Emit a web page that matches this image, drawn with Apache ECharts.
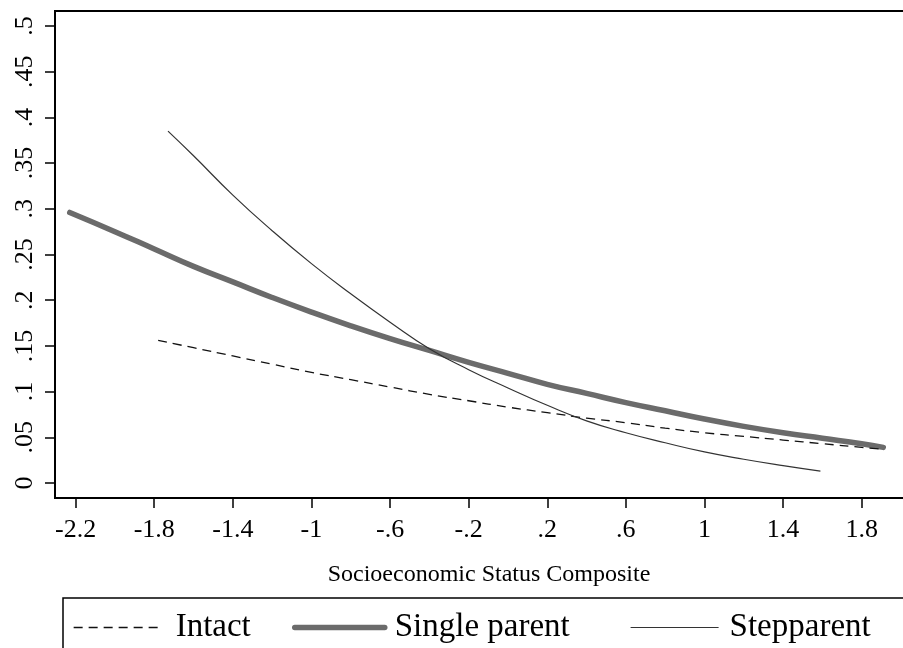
<!DOCTYPE html>
<html>
<head>
<meta charset="utf-8">
<script src="https://cdn.jsdelivr.net/npm/echarts@6/dist/echarts.min.js"></script>
<style>html,body{margin:0;padding:0;background:#fff}#c{width:903px;height:648px}</style>
</head>
<body>
<div id="c"></div>
<script>
// ---- data ----
const xTicks = [-2.2, -1.8, -1.4, -1, -0.6, -0.2, 0.2, 0.6, 1, 1.4, 1.8];
const yTicks = [0, 0.05, 0.1, 0.15, 0.2, 0.25, 0.3, 0.35, 0.4, 0.45, 0.5];

const intactX = [-1.78, -1.6, -1.4, -1.2, -1.0, -0.8, -0.6, -0.4, -0.2, 0, 0.2, 0.4, 0.6, 0.8, 1.0, 1.2, 1.4, 1.6, 1.8, 1.9];
const intactY = [0.156, 0.148, 0.139, 0.130, 0.121, 0.113, 0.105, 0.097, 0.090, 0.083, 0.077, 0.071, 0.066, 0.060, 0.055, 0.051, 0.047, 0.043, 0.039, 0.037];

const singleX = [-2.23, -2.0, -1.8, -1.6, -1.4, -1.2, -1.0, -0.8, -0.6, -0.4, -0.2, 0, 0.2, 0.4, 0.6, 0.8, 1.0, 1.2, 1.4, 1.6, 1.8, 1.91];
const singleY = [0.296, 0.275, 0.256, 0.237, 0.220, 0.203, 0.187, 0.172, 0.158, 0.145, 0.132, 0.120, 0.108, 0.098, 0.088, 0.079, 0.070, 0.062, 0.055, 0.049, 0.043, 0.039];

const stepX = [-1.73, -1.6, -1.4, -1.2, -1.0, -0.8, -0.6, -0.4, -0.2, 0, 0.2, 0.4, 0.6, 0.8, 1.0, 1.2, 1.4, 1.59];
const stepY = [0.385, 0.358, 0.315, 0.276, 0.240, 0.207, 0.176, 0.147, 0.124, 0.104, 0.085, 0.068, 0.055, 0.044, 0.034, 0.026, 0.019, 0.013];

const seriesNames = ['Intact', 'Single parent', 'Stepparent'];
const xTitle = 'Socioeconomic Status Composite';

const zip = (xs, ys) => xs.map((x, i) => [x, ys[i]]);
const fmt = v => String(+v.toFixed(3)).replace(/^(-?)0\./, '$1.');

const FONT = '"Liberation Serif", "Times New Roman", serif';
const styles = [
  {color: '#111', width: 1.3, type: [9, 6]},
  {color: '#6b6b6b', width: 5.5, type: 'solid', cap: 'round'},
  {color: '#333', width: 1.2, type: 'solid'}
];

const chart = echarts.init(document.getElementById('c'), null, {renderer: 'canvas'});

function mkLegend(i, left, width, pad) {
  return {
    orient: 'horizontal', top: 606, left: left, itemWidth: width, itemHeight: 14,
    selectedMode: false,
    itemStyle: {opacity: 0},
    data: [{name: seriesNames[i], lineStyle: Object.assign({}, styles[i]), itemStyle: {opacity: 0}}],
    textStyle: {fontFamily: FONT, fontSize: 33, color: '#000', padding: [0, 0, 0, pad]}
  };
}

chart.setOption({
  backgroundColor: '#fff',
  animation: false,
  grid: {left: 55, top: 11, right: -20, height: 487, show: true, borderColor: '#000', borderWidth: 2, outerBoundsMode: 'none', containLabel: false},
  xAxis: {
    type: 'value', min: -2.305, max: 2.112,
    name: xTitle, nameLocation: 'middle', nameGap: 65,
    nameTextStyle: {fontFamily: FONT, fontSize: 24, color: '#000'},
    axisLine: {show: true, onZero: false, lineStyle: {color: '#000', width: 2}},
    axisTick: {show: true, length: 10, lineStyle: {color: '#000', width: 1.5}, customValues: xTicks},
    axisLabel: {fontFamily: FONT, fontSize: 26, color: '#000', margin: 19, customValues: xTicks, formatter: fmt},
    splitLine: {show: false}
  },
  yAxis: {
    type: 'value', min: -0.0164, max: 0.5164,
    axisLine: {show: true, onZero: false, lineStyle: {color: '#000', width: 2}},
    axisTick: {show: true, length: 10, lineStyle: {color: '#000', width: 1.5}, customValues: yTicks},
    axisLabel: {fontFamily: FONT, fontSize: 26, color: '#000', margin: 17, rotate: 90, customValues: yTicks, formatter: fmt},
    splitLine: {show: false}
  },
  legend: [
    mkLegend(0, 68, 87, 10),
    mkLegend(1, 287, 90, 5),
    mkLegend(2, 625, 88, 6)
  ],
  graphic: [{
    type: 'rect', shape: {x: 63, y: 598, width: 860, height: 80},
    style: {fill: 'none', stroke: '#000', lineWidth: 1.5}, silent: true
  }],
  series: seriesNames.map((n, i) => ({
    name: n, type: 'line', smooth: true, symbol: 'none',
    data: [zip(intactX, intactY), zip(singleX, singleY), zip(stepX, stepY)][i],
    lineStyle: styles[i], itemStyle: {color: styles[i].color},
    z: [3, 2, 4][i]
  }))
});
</script>
</body>
</html>
